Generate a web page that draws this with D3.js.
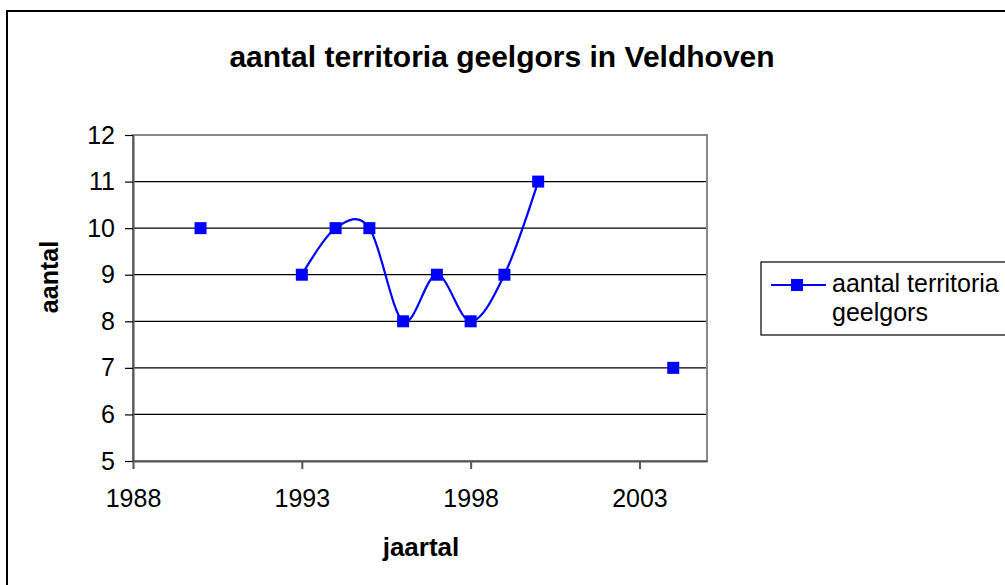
<!DOCTYPE html>
<html>
<head>
    <title>aantal territoria geelgors in Veldhoven</title>
    <script src="https://d3js.org/d3.v7.min.js"></script>
    <style>
        body {
            margin: 0;
            font-family: "Liberation Sans", Arial, sans-serif;
            background-color: white;
            overflow: hidden;
        }
        .grid line {
            stroke: #000;
            stroke-width: 1.2px;
        }
        .tick text {
            font-size: 25px;
            fill: #000;
        }
    </style>
</head>
<body>
    <div id="chart"></div>
    <script>
        // Data (null = no count that year)
        const years = [1990, 1991, 1992, 1993, 1994, 1995, 1996, 1997, 1998, 1999, 2000, 2001, 2002, 2003, 2004];
        const counts = [10, null, null, 9, 10, 10, 8, 9, 8, 9, 11, null, null, null, 7];
        const xTicks = [1988, 1993, 1998, 2003];
        const yTicks = [5, 6, 7, 8, 9, 10, 11, 12];
        const seriesName = ["aantal territoria", "geelgors"];

        const width = 1005;
        const height = 585;
        const plot = { left: 133, top: 135, right: 707, bottom: 461 };

        const svg = d3.select("#chart")
            .append("svg")
            .attr("width", width)
            .attr("height", height);

        // Outer chart frame (runs off the right and bottom edges)
        svg.append("rect")
            .attr("x", 7)
            .attr("y", 11)
            .attr("width", 1100)
            .attr("height", 700)
            .attr("fill", "white")
            .attr("stroke", "#000")
            .attr("stroke-width", 2);

        const x = d3.scaleLinear().domain([1988, 2005]).range([plot.left, plot.right]);
        const y = d3.scaleLinear().domain([5, 12]).range([plot.bottom, plot.top]);

        // Gridlines
        svg.append("g")
            .attr("class", "grid")
            .selectAll("line")
            .data(yTicks.slice(1, -1))
            .enter()
            .append("line")
            .attr("x1", plot.left)
            .attr("x2", plot.right)
            .attr("y1", d => y(d))
            .attr("y2", d => y(d));

        // Plot area border (grey)
        svg.append("rect")
            .attr("x", plot.left)
            .attr("y", plot.top)
            .attr("width", plot.right - plot.left)
            .attr("height", plot.bottom - plot.top)
            .attr("fill", "none")
            .attr("stroke", "#888")
            .attr("stroke-width", 2);

        // Axes
        const yAxis = svg.append("g")
            .attr("transform", `translate(${plot.left},0)`)
            .call(d3.axisLeft(y).tickValues(yTicks).tickFormat(d3.format("d"))
                .tickSize(8).tickPadding(10).tickSizeOuter(0));
        const xAxis = svg.append("g")
            .attr("transform", `translate(0,${plot.bottom})`)
            .call(d3.axisBottom(x).tickValues(xTicks).tickFormat(d3.format("d"))
                .tickSize(8).tickPadding(20).tickSizeOuter(0));

        [yAxis, xAxis].forEach(a => {
            a.select(".domain").attr("stroke", "#555").attr("stroke-width", 2);
            a.selectAll("text").attr("font-family", "Liberation Sans, Arial, sans-serif");
        });
        yAxis.selectAll(".tick line").attr("stroke", "#000").attr("stroke-width", 1.2);
        xAxis.selectAll(".tick line").attr("stroke", "#555").attr("stroke-width", 2);

        // Series line (smoothed, broken where years are missing)
        const line = d3.line()
            .defined((d, i) => counts[i] !== null)
            .x((d, i) => x(years[i]))
            .y((d, i) => y(counts[i]))
            .curve(d3.curveCatmullRom.alpha(0));

        svg.append("path")
            .datum(years)
            .attr("d", line)
            .attr("fill", "none")
            .attr("stroke", "#0000ff")
            .attr("stroke-width", 2.2);

        const pts = years.map((yr, i) => ({ yr, v: counts[i] })).filter(d => d.v !== null);
        svg.append("g")
            .selectAll("rect")
            .data(pts)
            .enter()
            .append("rect")
            .attr("x", d => x(d.yr) - 6)
            .attr("y", d => y(d.v) - 6)
            .attr("width", 12)
            .attr("height", 12)
            .attr("fill", "#0000ff");

        // Titles
        svg.append("text")
            .attr("x", 502)
            .attr("y", 67)
            .attr("text-anchor", "middle")
            .attr("font-size", 30)
            .attr("font-weight", "bold")
            .text("aantal territoria geelgors in Veldhoven");

        svg.append("text")
            .attr("x", 421)
            .attr("y", 556)
            .attr("text-anchor", "middle")
            .attr("font-size", 26)
            .attr("font-weight", "bold")
            .text("jaartal");

        svg.append("text")
            .attr("transform", "translate(58,277) rotate(-90)")
            .attr("text-anchor", "middle")
            .attr("font-size", 25)
            .attr("font-weight", "bold")
            .text("aantal");

        // Legend
        const legend = svg.append("g").attr("transform", "translate(761,262)");
        legend.append("rect")
            .attr("width", 300)
            .attr("height", 73)
            .attr("fill", "white")
            .attr("stroke", "#000")
            .attr("stroke-width", 1.2);
        legend.append("line")
            .attr("x1", 10).attr("x2", 65)
            .attr("y1", 23).attr("y2", 23)
            .attr("stroke", "#0000ff")
            .attr("stroke-width", 2.2);
        legend.append("rect")
            .attr("x", 30).attr("y", 17)
            .attr("width", 12).attr("height", 12)
            .attr("fill", "#0000ff");
        legend.selectAll("text.lbl")
            .data(seriesName)
            .enter()
            .append("text")
            .attr("class", "lbl")
            .attr("x", 71)
            .attr("y", (d, i) => 30 + i * 29)
            .attr("font-size", 25)
            .text(d => d);
    </script>
</body>
</html>
